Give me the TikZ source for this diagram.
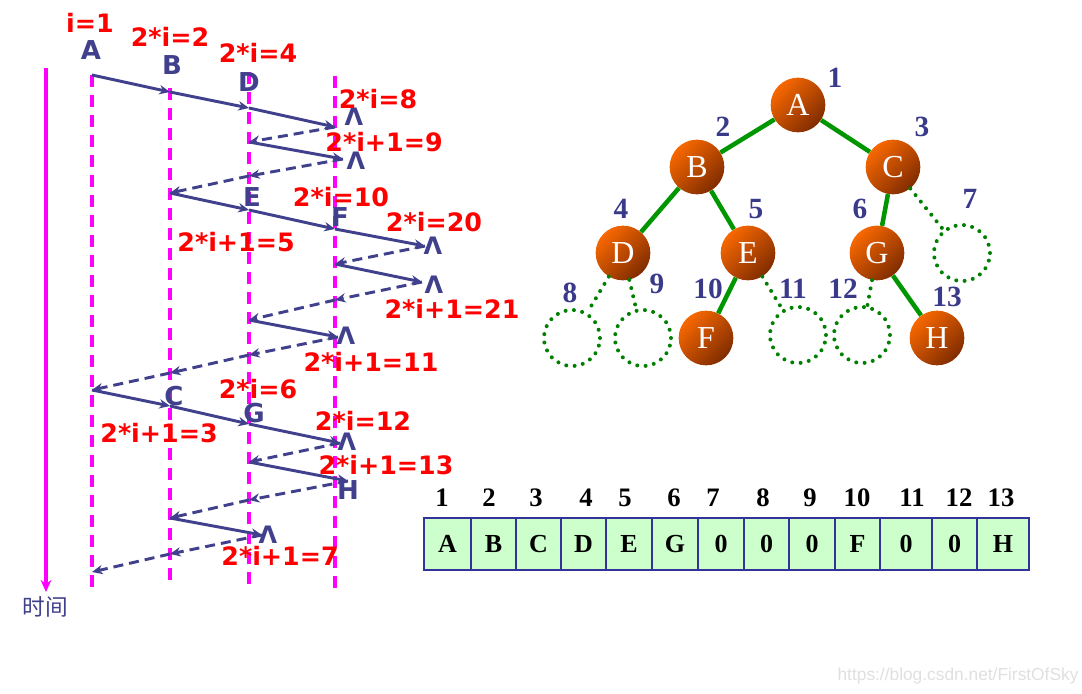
\documentclass[tikz,border=0pt]{standalone}
\usepackage{fontspec}
\setmainfont{Liberation Serif}[BoldFont={Liberation Serif Bold}]
\newfontfamily\lblfont{DejaVu Sans}[BoldFont={DejaVu Sans Bold}]
\newfontfamily\cjkfont{Noto Sans CJK SC}
\newfontfamily\wmfont{Liberation Sans}
\usetikzlibrary{arrows.meta}
\definecolor{navy}{RGB}{64,64,140}
\definecolor{mag}{RGB}{255,0,255}
\definecolor{tgreen}{RGB}{0,150,0}
\definecolor{dgreen}{RGB}{0,128,0}
\definecolor{orangeA}{RGB}{248,104,0}
\definecolor{orangeB}{RGB}{128,44,0}
\definecolor{numblue}{RGB}{58,58,138}
\definecolor{cellgreen}{RGB}{204,255,204}
\definecolor{cellborder}{RGB}{51,51,153}
\begin{document}
\begin{tikzpicture}[x=0.75pt,y=-0.75pt,
 timeline/.style={draw=mag, line width=2.6pt, dash pattern=on 9pt off 6pt},
 sarr/.style={draw=navy, line width=2.2pt, -{Stealth[length=8pt,width=7pt]}},
 darr/.style={sarr, dash pattern=on 7.5pt off 4.5pt},
 redlbl/.style={text=red, font=\lblfont\bfseries\fontsize{19}{20}\selectfont, inner sep=0pt},
 letlbl/.style={text=navy, font=\lblfont\bfseries\fontsize{19.5}{20}\selectfont, inner sep=0pt},
 nil/.style={text=navy, font=\lblfont\bfseries\fontsize{18}{19}\selectfont, inner sep=0pt},
 ball/.style={circle, minimum size=41pt, inner sep=0pt, top color=orangeA, bottom color=orangeB, shading angle=45, text=white, font=\fontsize{24}{25}\selectfont},
 ghost/.style={circle, minimum size=42pt, inner sep=0pt, draw=dgreen, line width=3pt, dash pattern=on 0pt off 6.3pt, line cap=round},
 tedge/.style={draw=tgreen, line width=3.4pt},
 dedge/.style={draw=dgreen, line width=3pt, dash pattern=on 0pt off 6.3pt, line cap=round},
 idx/.style={text=numblue, font=\bfseries\fontsize{22}{24}\selectfont, inner sep=0pt},
 cell/.style={draw=cellborder, line width=1pt, fill=cellgreen, minimum height=39pt, inner sep=0pt, font=\bfseries\fontsize{19.5}{20}\selectfont},
 anum/.style={font=\bfseries\fontsize{20}{22}\selectfont, inner sep=0pt}
]
\useasboundingbox[fill=white] (0,0) rectangle (1082,693);

% ---- time axis and dashed lifelines
\coordinate (t0) at (46,68);
\coordinate (t1) at (46,592);
\draw[draw=mag, line width=2.6pt, -{Stealth[length=9pt,width=8pt]}] (t0) -- (t1);
\node[text=navy, font=\cjkfont\fontsize{17}{18}\selectfont, inner sep=0pt] (tl) at (45,607) {时间};
\coordinate (v1a) at (92,75);  \coordinate (v1b) at (92,590);
\coordinate (v2a) at (170,88); \coordinate (v2b) at (170,587);
\coordinate (v3a) at (249,72); \coordinate (v3b) at (249,588);
\coordinate (v4a) at (335,76); \coordinate (v4b) at (335,590);
\draw[timeline] (v1a) -- (v1b);
\draw[timeline] (v2a) -- (v2b);
\draw[timeline] (v3a) -- (v3b);
\draw[timeline] (v4a) -- (v4b);

% ---- call points
\coordinate (a0) at (92,75);  \coordinate (a1) at (170,92);
\coordinate (a2) at (249,108); \coordinate (a3) at (335,127);
\coordinate (b0) at (249,142); \coordinate (b1) at (343,159);
\coordinate (m1) at (249,176); \coordinate (c0) at (170,193);
\coordinate (c1) at (249,210); \coordinate (c2) at (335,229);
\coordinate (c3) at (425,246); \coordinate (d0) at (335,264);
\coordinate (d1) at (422,282); \coordinate (m2) at (335,300);
\coordinate (e0) at (249,320); \coordinate (e1) at (338,337);
\coordinate (m3) at (249,355); \coordinate (m4) at (170,373);
\coordinate (f0) at (92,390);  \coordinate (f1) at (170,406);
\coordinate (f2) at (249,424); \coordinate (f3) at (340,443);
\coordinate (g0) at (249,462); \coordinate (g1) at (348,481);
\coordinate (m5) at (249,500); \coordinate (h0) at (170,518);
\coordinate (h1) at (262,535); \coordinate (m6) at (170,554);
\coordinate (h2) at (92,572);

\draw[sarr] (a0) -- (a1);
\draw[sarr] (a1) -- (a2);
\draw[sarr] (a2) -- (a3);
\draw[darr] (a3) -- (b0);
\draw[sarr] (b0) -- (b1);
\draw[darr] (b1) -- (m1);
\draw[darr] (m1) -- (c0);
\draw[sarr] (c0) -- (c1);
\draw[sarr] (c1) -- (c2);
\draw[sarr] (c2) -- (c3);
\draw[darr] (c3) -- (d0);
\draw[sarr] (d0) -- (d1);
\draw[darr] (d1) -- (m2);
\draw[darr] (m2) -- (e0);
\draw[sarr] (e0) -- (e1);
\draw[darr] (e1) -- (m3);
\draw[darr] (m3) -- (m4);
\draw[darr] (m4) -- (f0);
\draw[sarr] (f0) -- (f1);
\draw[sarr] (f1) -- (f2);
\draw[sarr] (f2) -- (f3);
\draw[darr] (f3) -- (g0);
\draw[sarr] (g0) -- (g1);
\draw[darr] (g1) -- (m5);
\draw[darr] (m5) -- (h0);
\draw[sarr] (h0) -- (h1);
\draw[darr] (h1) -- (m6);
\draw[darr] (m6) -- (h2);

% ---- letters on the call sequence
\node[letlbl] (lA) at (91,50) {A};
\node[letlbl] (lB) at (172,65) {B};
\node[letlbl] (lD) at (249,82) {D};
\node[letlbl] (lE) at (252,197) {E};
\node[letlbl] (lF) at (340,217) {F};
\node[letlbl] (lC) at (174,396) {C};
\node[letlbl] (lG) at (254,413) {G};
\node[letlbl] (lH) at (348,490) {H};
\node[nil] (n1) at (354,117) {Λ};
\node[nil] (n2) at (356,161) {Λ};
\node[nil] (n3) at (433,246) {Λ};
\node[nil] (n4) at (434,285) {Λ};
\node[nil] (n5) at (346,336) {Λ};
\node[nil] (n6) at (347,442) {Λ};
\node[nil] (n7) at (268,535) {Λ};

% ---- red index labels
\node[redlbl] (r1) at (90,23) {i=1};
\node[redlbl] (r2) at (170,37) {2*i=2};
\node[redlbl] (r3) at (258,53) {2*i=4};
\node[redlbl] (r4) at (378,99) {2*i=8};
\node[redlbl] (r5) at (384,142) {2*i+1=9};
\node[redlbl] (r6) at (341,197) {2*i=10};
\node[redlbl] (r7) at (434,222) {2*i=20};
\node[redlbl] (r8) at (236,242) {2*i+1=5};
\node[redlbl] (r9) at (452,309) {2*i+1=21};
\node[redlbl] (r10) at (371,362) {2*i+1=11};
\node[redlbl] (r11) at (258,389) {2*i=6};
\node[redlbl] (r12) at (159,433) {2*i+1=3};
\node[redlbl] (r13) at (363,421) {2*i=12};
\node[redlbl] (r14) at (386,465) {2*i+1=13};
\node[redlbl] (r15) at (280,556) {2*i+1=7};

% ---- tree
\node[ball] (A) at (798,105) {A};
\node[ball] (B) at (697,167) {B};
\node[ball] (C) at (893,167) {C};
\node[ball] (D) at (623,253) {D};
\node[ball] (E) at (748,253) {E};
\node[ball] (G) at (877,253) {G};
\node[ball] (F) at (706,338) {F};
\node[ball] (H) at (937,338) {H};
\node[ghost] (g7) at (962,253) {};
\node[ghost] (g8) at (572,338) {};
\node[ghost] (g9) at (643,338) {};
\node[ghost] (g11) at (798,335) {};
\node[ghost] (g12) at (862,335) {};
\draw[tedge] (A) -- (B);
\draw[tedge] (A) -- (C);
\draw[tedge] (B) -- (D);
\draw[tedge] (B) -- (E);
\draw[tedge] (C) -- (G);
\draw[tedge] (E) -- (F);
\draw[tedge] (G) -- (H);
\draw[dedge] (C) -- (g7);
\draw[dedge] (D) -- (g8);
\draw[dedge] (D) -- (g9);
\draw[dedge] (E) -- (g11);
\draw[dedge] (G) -- (g12);
\node[idx] (i1) at (835,78) {1};
\node[idx] (i2) at (723,127) {2};
\node[idx] (i3) at (922,127) {3};
\node[idx] (i4) at (621,209) {4};
\node[idx] (i5) at (756,209) {5};
\node[idx] (i6) at (860,209) {6};
\node[idx] (i7) at (970,199) {7};
\node[idx] (i8) at (570,293) {8};
\node[idx] (i9) at (657,284) {9};
\node[idx] (i10) at (708,289) {10};
\node[idx] (i11) at (793,289) {11};
\node[idx] (i12) at (843,289) {12};
\node[idx] (i13) at (947,297) {13};

% ---- array
\foreach \l/\r/\t [count=\i] in {424/471/A, 471/516/B, 516/561/C, 561/606/D, 606/652/E, 652/698/G, 698/744/0, 744/789/0, 789/835/0, 835/880/F, 880/932/0, 932/977/0, 977/1029/H}
  \node[cell, minimum width={(\r-\l)*0.75pt}] (cell\i) at ({(\l+\r)/2},544) {\t};
\foreach \x [count=\i] in {442,489,536,586,625,674,713,763,810,857,912,959,1001}
  \node[anum] (num\i) at (\x,498) {\i};

\node[text=black!12, font=\wmfont\fontsize{13}{14}\selectfont, inner sep=0pt] (wm) at (958,676) {https://blog.csdn.net/FirstOfSky};
\end{tikzpicture}
\end{document}
